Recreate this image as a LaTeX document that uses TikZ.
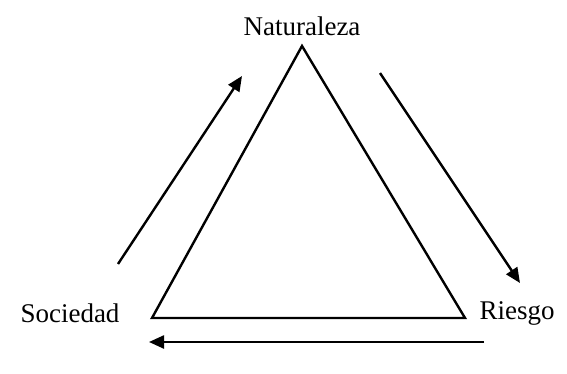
\documentclass[tikz,border=0pt]{standalone}
\usepackage{fontspec}
\setmainfont{Liberation Serif}
\usetikzlibrary{arrows.meta}
\begin{document}
\begin{tikzpicture}[x=1pt,y=-1pt,
  lbl/.style={font=\fontsize{27}{32}\selectfont, inner sep=0pt},
  tri/.style={line width=2.4pt, line join=miter},
  arr/.style={line width=2.4pt, -{Triangle[length=15pt,width=13pt]}}]
\useasboundingbox (0,0) rectangle (567,374);
\coordinate (top) at (302,46);
\coordinate (left) at (152,318);
\coordinate (right) at (465,318);
\draw[tri] (top) -- (left) -- (right) -- cycle;
\node[lbl] (nat) at (302,26) {Naturaleza};
\node[lbl] (soc) at (70,313) {Sociedad};
\node[lbl] (rie) at (517,313) {Riesgo};
\coordinate (a1s) at (118,264);
\coordinate (a1e) at (242,76);
\coordinate (a2s) at (380,73);
\coordinate (a2e) at (520,283);
\coordinate (a3s) at (484,342);
\coordinate (a3e) at (149,342);
\draw[arr] (a1s) -- (a1e);
\draw[arr] (a2s) -- (a2e);
\draw[arr] (a3s) -- (a3e);
\end{tikzpicture}
\end{document}
